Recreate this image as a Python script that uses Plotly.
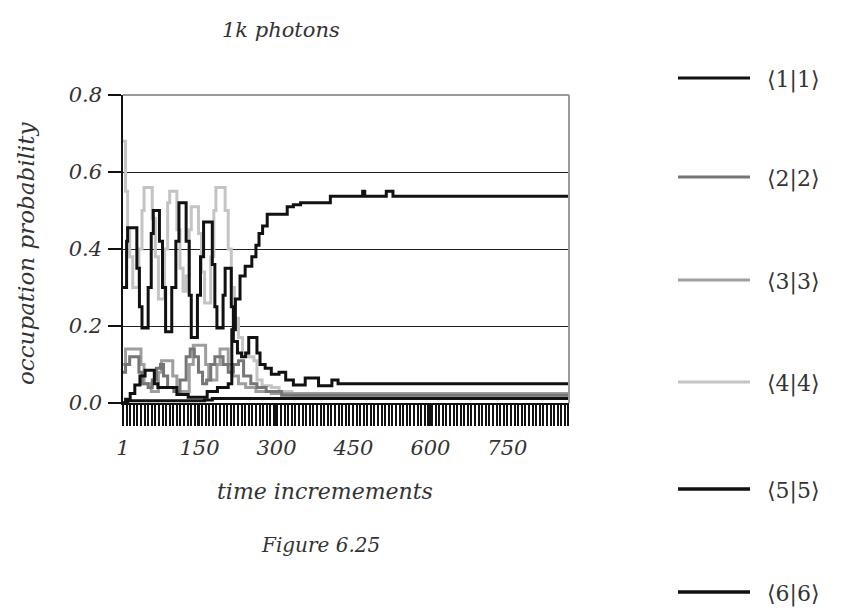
import plotly.graph_objects as go

# ---------------- data ----------------
series_names = ["⟨1|1⟩", "⟨2|2⟩", "⟨3|3⟩", "⟨4|4⟩", "⟨5|5⟩", "⟨6|6⟩"]

t1 = [1, 4, 8, 10, 22, 28, 33, 38, 44, 50, 56, 60, 68, 72, 78, 84, 90, 96, 104, 110,
      120, 124, 130, 134, 140, 146, 152, 158, 170, 175, 180, 184, 192, 196, 200, 208,
      212, 216, 224, 232, 240, 246, 256, 262, 268, 278, 290, 305, 318, 333, 345, 356,
      370, 382, 398, 408, 416, 420, 870]
p1 = [0.30, 0.30, 0.42, 0.455, 0.455, 0.35, 0.25, 0.195, 0.195, 0.30, 0.44, 0.50, 0.50,
      0.42, 0.30, 0.185, 0.185, 0.30, 0.42, 0.52, 0.52, 0.42, 0.28, 0.17, 0.17, 0.28,
      0.38, 0.47, 0.47, 0.36, 0.25, 0.195, 0.195, 0.28, 0.35, 0.35, 0.25, 0.16, 0.13,
      0.12, 0.13, 0.17, 0.17, 0.13, 0.10, 0.09, 0.075, 0.08, 0.06, 0.047, 0.047, 0.065,
      0.065, 0.045, 0.045, 0.06, 0.06, 0.05, 0.05]

t2 = [1, 6, 14, 26, 32, 38, 50, 58, 66, 74, 80, 88, 100, 112, 124, 132, 140, 148, 156,
      164, 172, 180, 188, 196, 206, 216, 226, 236, 250, 262, 280, 310, 870]
p2 = [0.08, 0.10, 0.12, 0.12, 0.08, 0.05, 0.04, 0.06, 0.09, 0.10, 0.07, 0.04, 0.03,
      0.06, 0.12, 0.14, 0.12, 0.08, 0.05, 0.06, 0.10, 0.12, 0.12, 0.10, 0.08, 0.10,
      0.11, 0.07, 0.05, 0.04, 0.03, 0.02, 0.02]

t3 = [1, 6, 30, 36, 42, 56, 62, 70, 76, 92, 98, 106, 122, 130, 138, 156, 162, 168, 176,
      184, 190, 198, 206, 214, 226, 240, 260, 290, 870]
p3 = [0.10, 0.14, 0.14, 0.10, 0.05, 0.03, 0.03, 0.08, 0.11, 0.11, 0.07, 0.03, 0.03,
      0.10, 0.15, 0.15, 0.10, 0.06, 0.06, 0.10, 0.14, 0.14, 0.10, 0.07, 0.05, 0.04,
      0.03, 0.025, 0.02]

t4 = [1, 4, 6, 10, 14, 20, 26, 32, 38, 42, 54, 58, 64, 70, 76, 82, 88, 92, 100, 106,
      112, 118, 124, 130, 134, 144, 148, 154, 160, 166, 172, 178, 182, 196, 200, 206,
      212, 218, 226, 234, 246, 256, 262, 272, 290, 305, 330, 870]
p4 = [0.68, 0.68, 0.55, 0.45, 0.38, 0.30, 0.30, 0.40, 0.50, 0.56, 0.56, 0.48, 0.38,
      0.27, 0.27, 0.40, 0.52, 0.55, 0.55, 0.45, 0.35, 0.29, 0.33, 0.45, 0.51, 0.51,
      0.44, 0.34, 0.26, 0.26, 0.38, 0.50, 0.56, 0.56, 0.50, 0.40, 0.30, 0.22, 0.17,
      0.13, 0.12, 0.11, 0.06, 0.045, 0.04, 0.03, 0.02, 0.02]

t5 = [1, 6, 15, 24, 34, 44, 58, 62, 69, 102, 106, 126, 128, 161, 165, 181, 185, 200,
      206, 213, 220, 229, 239, 252, 260, 266, 273, 282, 308, 321, 333, 347, 399, 405,
      466, 468, 472, 512, 514, 525, 527, 870]
p5 = [0.0, 0.01, 0.025, 0.047, 0.07, 0.085, 0.085, 0.05, 0.04, 0.04, 0.022, 0.022,
      0.015, 0.015, 0.03, 0.03, 0.04, 0.04, 0.05, 0.19, 0.27, 0.33, 0.355, 0.38, 0.41,
      0.44, 0.46, 0.49, 0.49, 0.51, 0.515, 0.52, 0.52, 0.537, 0.537, 0.55, 0.537,
      0.537, 0.55, 0.55, 0.537, 0.537]

t6 = [1, 10, 160, 175, 300, 870]
p6 = [0.0, 0.006, 0.008, 0.012, 0.012, 0.012]

x_tick_vals = [1, 150, 300, 450, 600, 750]
y_tick_vals = [0.0, 0.2, 0.4, 0.6, 0.8]

# ---------------- styles ----------------
colors = ["#111111", "#767676", "#9e9e9e", "#c4c4c4", "#111111", "#111111"]
series_t = [t1, t2, t3, t4, t5, t6]
series_p = [p1, p2, p3, p4, p5, p6]
draw_order = [3, 2, 1, 5, 0, 4]

SERIF = "DejaVu Serif"
OFF = 8  # page body margin in the browser

fig = go.Figure()
for i in draw_order:
    fig.add_trace(go.Scatter(
        x=series_t[i], y=series_p[i], mode="lines", name=series_names[i],
        line=dict(color=colors[i], width=3, shape="hv"), showlegend=False))

# target pixel positions in the 844x610 window
L, R, T, B = 123, 569, 95, 403
W, H = 844 - OFF, 610 - OFF
Lf, Rf, Tf, Bf = L - OFF, R - OFF, T - OFF, B - OFF
pw, ph = R - L, B - T

fig.update_layout(
    width=W, height=H,
    margin=dict(l=Lf, r=W - Rf, t=Tf, b=H - Bf),
    paper_bgcolor="white", plot_bgcolor="white",
    showlegend=False,
    font=dict(family=SERIF, color="#222222", size=18),
)

fig.update_xaxes(
    range=[1, 870], tickvals=x_tick_vals, ticktext=[str(v) for v in x_tick_vals],
    ticks="outside", ticklen=21, tickwidth=2.3, tickcolor="#111111",
    showline=True, linecolor="#111111", linewidth=1.5,
    showgrid=False, zeroline=False,
    tickfont=dict(family=SERIF, size=21, style="italic", color="#333333"),
    ticklabelstandoff=4,
    minor=dict(ticks="outside", ticklen=21, tickwidth=2.3, tickcolor="#111111",
               tick0=1, dtick=7, showgrid=False),
)
fig.update_yaxes(
    range=[0, 0.8], tickvals=y_tick_vals, ticktext=["0.0", "0.2", "0.4", "0.6", "0.8"],
    ticks="outside", ticklen=13, tickwidth=1.5, tickcolor="#111111",
    showline=True, linecolor="#111111", linewidth=1.5,
    showgrid=True, gridcolor="#222222", gridwidth=1, zeroline=False,
    tickfont=dict(family=SERIF, size=21, style="italic", color="#333333"),
    ticklabelstandoff=2,
)

# gray plot-area frame (top and right)
fig.add_shape(type="line", xref="paper", yref="paper", x0=0, x1=1, y0=1, y1=1,
              line=dict(color="#9a9a9a", width=2), layer="above")
fig.add_shape(type="line", xref="paper", yref="paper", x0=1, x1=1, y0=0, y1=1,
              line=dict(color="#9a9a9a", width=2), layer="above")

def px_x(x):
    return (x - L) / pw

def px_y(y):
    return (B - y) / ph

def label(text, x, y, size, angle=0, style="italic", anchor="center"):
    fig.add_annotation(text=text, xref="paper", yref="paper",
                       x=px_x(x), y=px_y(y), showarrow=False, textangle=angle,
                       xanchor=anchor, yanchor="middle",
                       font=dict(family=SERIF, size=size, style=style, color="#333333"))

# titles
label("1k photons", 281, 30, 21)
label("occupation probability", 26, 254, 23, angle=-90)
label("time incremements", 325, 492, 22)
label("Figure 6.25", 320, 545, 20)

# legend (drawn at the right)
legend_y = [78, 177, 280, 382, 489, 592]
legend_w = [3, 3, 3, 3, 3.5, 3.5]
for i, name in enumerate(series_names):
    yy = px_y(legend_y[i])
    fig.add_shape(type="line", xref="paper", yref="paper",
                  x0=px_x(678), x1=px_x(750), y0=yy, y1=yy,
                  line=dict(color=colors[i], width=legend_w[i]))
    label(name, 765, legend_y[i] + 2, 22, style="normal", anchor="left")

fig.write_html("out.html")
